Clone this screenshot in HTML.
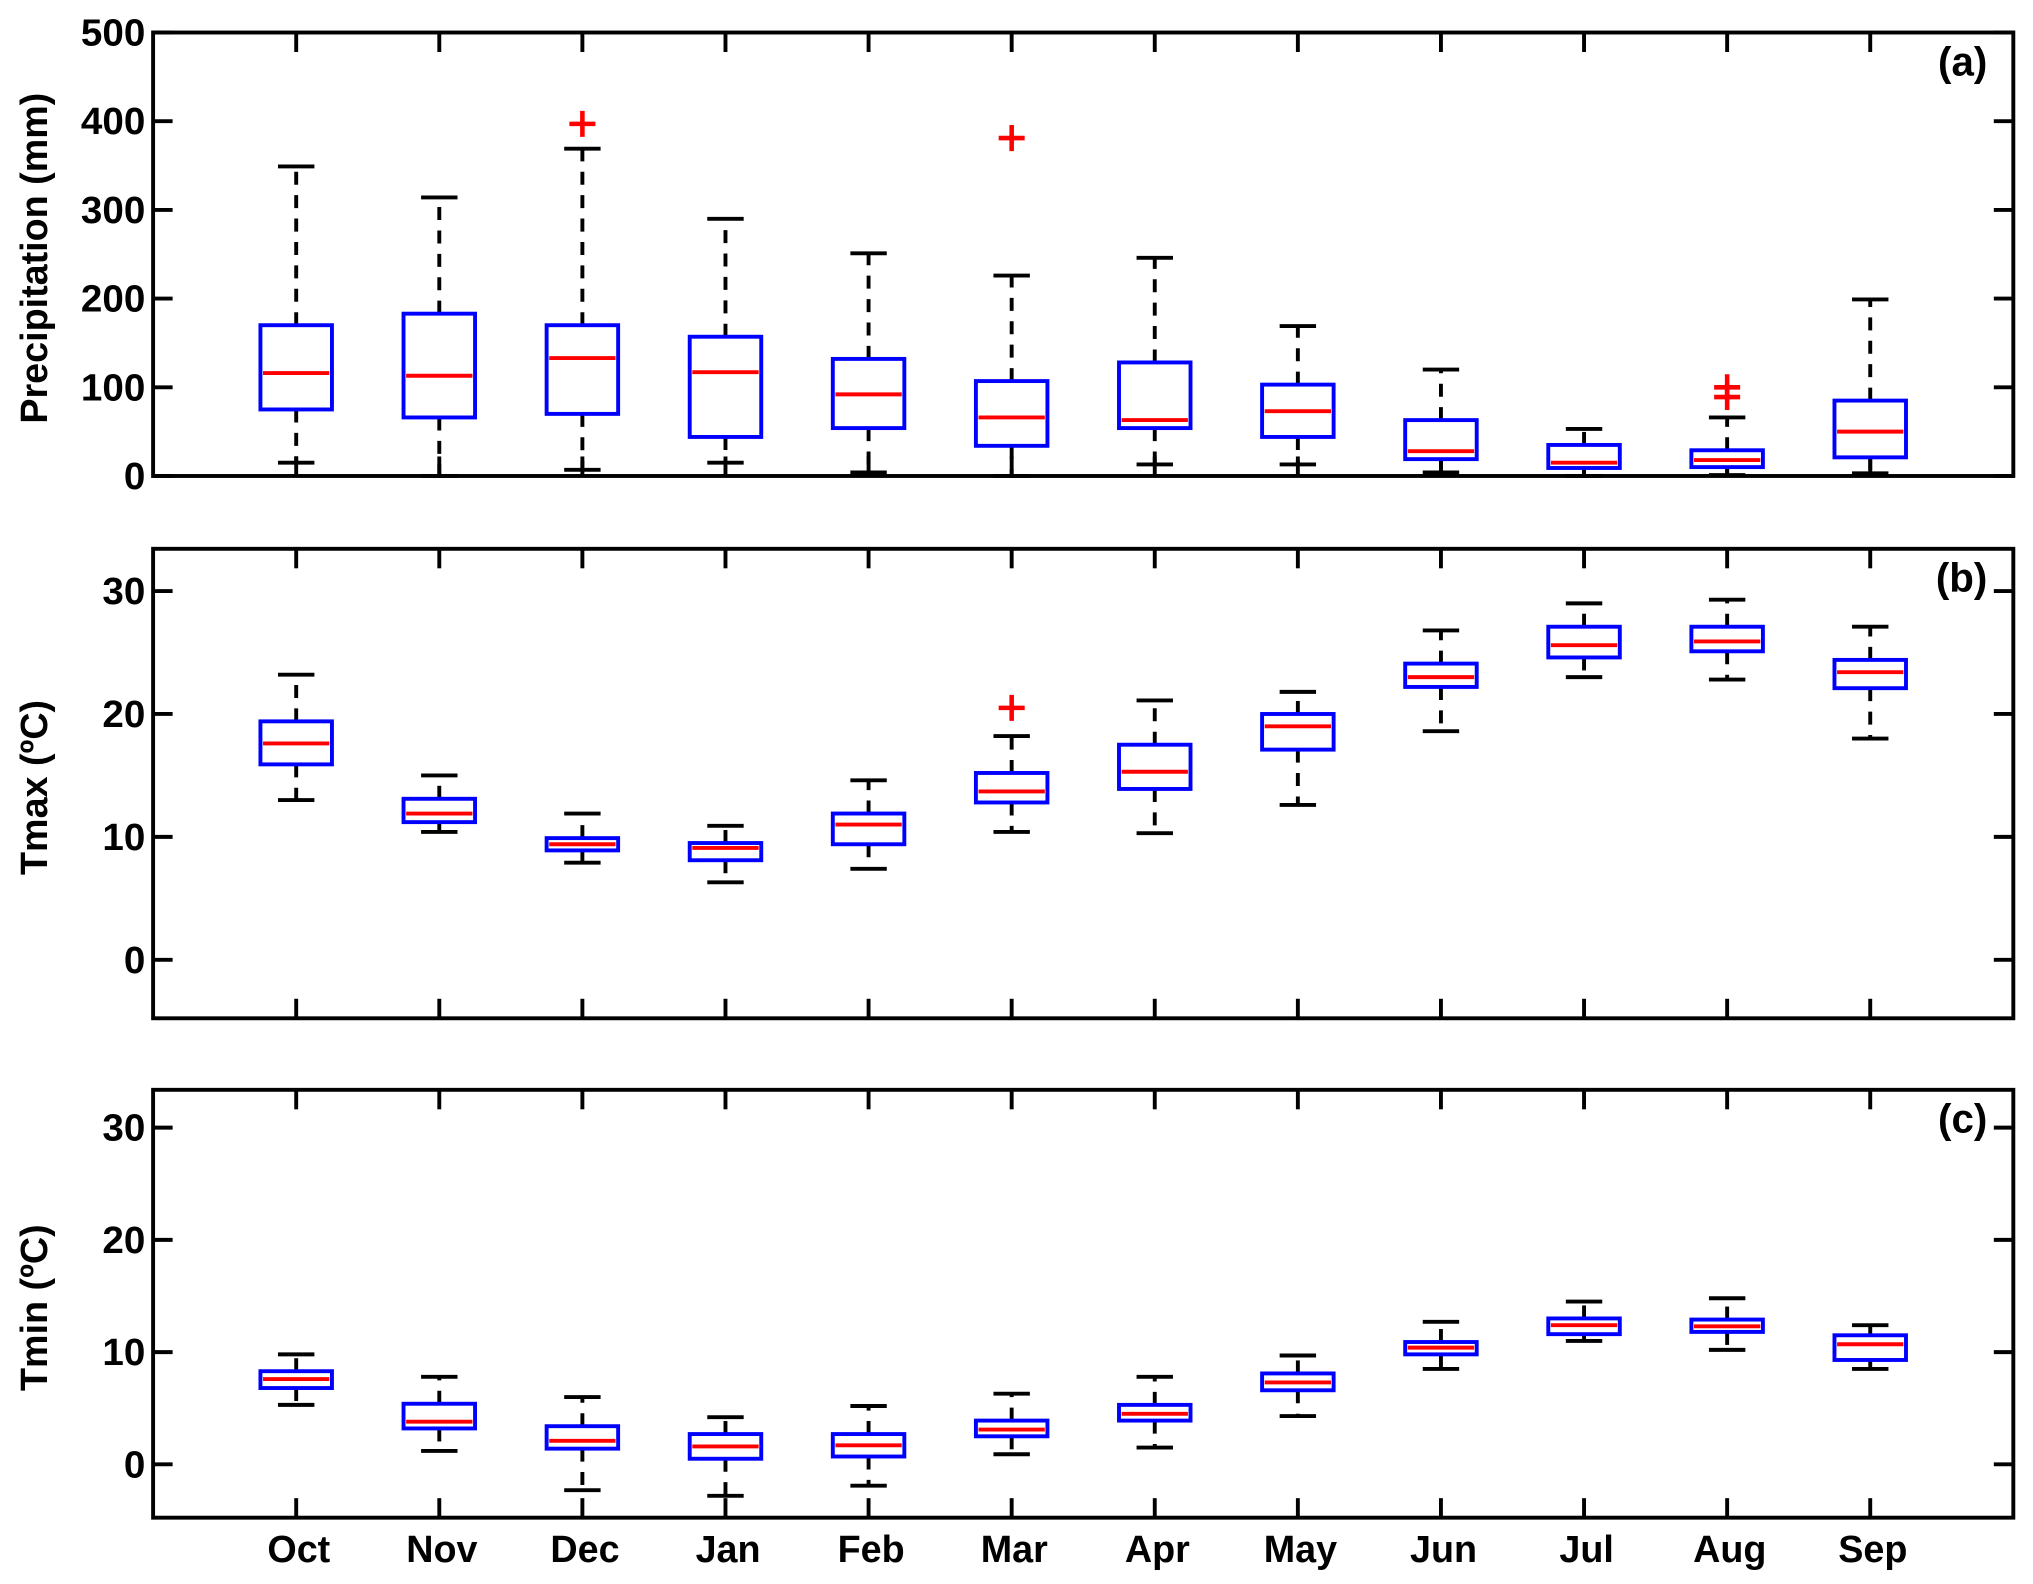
<!DOCTYPE html>
<html><head><meta charset="utf-8"><style>
html,body{margin:0;padding:0;background:#fff;}
svg{display:block;}
text{font-family:"Liberation Sans",Arial,sans-serif;font-weight:bold;fill:#000;}
</style></head><body>
<svg id="chart" width="2033" height="1584" viewBox="0 0 1563 1218" xmlns="http://www.w3.org/2000/svg"></svg>
<script>
const months = ["Oct","Nov","Dec","Jan","Feb","Mar","Apr","May","Jun","Jul","Aug","Sep"];
// Precipitation (mm)
const precipLow = [15,0,7,15,4,0,13,13,4,0,1,3];
const precipQ1  = [75,66,70,44,54,34,54,44,19,9,10,21];
const precipMed = [116,113,133,117,92,66,63,73,28,15,18,50];
const precipQ3  = [170,183,170,157,132,107,128,103,63,35,29,85];
const precipHigh= [349,314,369,290,251,226,246,169,120,53,66,199];
const precipOutliers = [[],[],[397],[],[],[381],[],[],[],[],[100,89],[]];
// Tmax (C)
const tmaxLow = [13.0,10.4,7.9,6.3,7.4,10.4,10.3,12.6,18.6,23.0,22.8,18.0];
const tmaxQ1  = [15.9,11.2,8.9,8.1,9.4,12.8,13.9,17.1,22.2,24.6,25.1,22.1];
const tmaxMed = [17.6,11.9,9.4,9.1,11.0,13.7,15.3,19.0,23.0,25.6,25.9,23.4];
const tmaxQ3  = [19.4,13.1,9.9,9.5,11.9,15.2,17.5,20.0,24.1,27.1,27.1,24.4];
const tmaxHigh= [23.2,15.0,11.9,10.9,14.6,18.2,21.1,21.8,26.8,29.0,29.3,27.1];
const tmaxOutliers = [[],[],[],[],[],[20.5],[],[],[],[],[],[]];
// Tmin (C)
const tminLow = [5.3,1.2,-2.3,-2.8,-1.9,0.9,1.5,4.3,8.5,11.0,10.2,8.5];
const tminQ1  = [6.8,3.2,1.4,0.5,0.7,2.5,3.9,6.6,9.8,11.6,11.8,9.3];
const tminMed = [7.6,3.8,2.1,1.6,1.7,3.1,4.5,7.3,10.4,12.4,12.3,10.7];
const tminQ3  = [8.3,5.4,3.4,2.7,2.7,3.9,5.3,8.1,10.9,13.0,12.9,11.5];
const tminHigh= [9.8,7.8,6.0,4.2,5.2,6.3,7.8,9.7,12.7,14.5,14.8,12.4];
const tminOutliers = [[],[],[],[],[],[],[],[],[],[],[],[]];

const precipTicks = [0,100,200,300,400,500];
const tempTicks = [0,10,20,30];

const svg = document.getElementById('chart');
const NS = 'http://www.w3.org/2000/svg';
function mk(tag, attrs, parent){
  const e = document.createElementNS(NS, tag);
  for (const k in attrs) e.setAttribute(k, attrs[k]);
  (parent||svg).appendChild(e);
  return e;
}
const L = 117.6, R = 1548;
function xScale(i){ return L + (i+1)*(R-L)/13; }

function panel(cfg){
  const g = mk('g', {});
  
  
  const y = v => cfg.top + (cfg.ymax - v)/(cfg.ymax - cfg.ymin)*(cfg.bot - cfg.top);
  const fr = mk('rect', {x:L, y:cfg.top, width:R-L, height:cfg.bot-cfg.top, fill:'none', stroke:'#000', 'stroke-width':3}, g);
  
  
  cfg.ticks.forEach(t => {
    const yy = y(t);
    mk('line', {x1:L, x2:L+15, y1:yy, y2:yy, stroke:'#000', 'stroke-width':3}, g);
    mk('line', {x1:R-15, x2:R, y1:yy, y2:yy, stroke:'#000', 'stroke-width':3}, g);
    const tx = mk('text', {x:L-6, y:yy+10, 'text-anchor':'end', 'font-size':29, textLength:String(t).length*16.5, lengthAdjust:'spacingAndGlyphs'}, g);
    tx.textContent = t;
    
    
  });
  months.forEach((m,i) => {
    const xx = xScale(i);
    mk('line', {x1:xx, x2:xx, y1:cfg.top, y2:cfg.top+15, stroke:'#000', 'stroke-width':3}, g);
    mk('line', {x1:xx, x2:xx, y1:cfg.bot-15, y2:cfg.bot, stroke:'#000', 'stroke-width':3}, g);
  });
  const yl = mk('text', {x:0, y:0, 'text-anchor':'middle', 'font-size':29, transform:`translate(36,${(cfg.top+cfg.bot)/2+3}) rotate(-90)`}, g);
  yl.textContent = cfg.ylabel;
  
  
  const pl = mk('text', {x:1528, y:cfg.top+33, 'text-anchor':'end', 'font-size':31}, g);
  pl.textContent = cfg.tag;
  
  
  const hw = 27.5, cw = 14;
  months.forEach((m,i) => {
    const xx = xScale(i);
    const bg = mk('g', {}, g);
    
    
    const lo=cfg.low[i], q1=cfg.q1[i], md=cfg.med[i], q3=cfg.q3[i], hi=cfg.high[i];
    mk('line', {x1:xx, x2:xx, y1:y(q3), y2:y(hi), stroke:'#000', 'stroke-width':3, 'stroke-dasharray':'10,8'}, bg);
    mk('line', {x1:xx, x2:xx, y1:y(q1), y2:y(lo), stroke:'#000', 'stroke-width':3, 'stroke-dasharray':'10,8'}, bg);
    mk('line', {x1:xx-cw, x2:xx+cw, y1:y(hi), y2:y(hi), stroke:'#000', 'stroke-width':3}, bg);
    mk('line', {x1:xx-cw, x2:xx+cw, y1:y(lo), y2:y(lo), stroke:'#000', 'stroke-width':3}, bg);
    mk('rect', {x:xx-hw, y:y(q3), width:2*hw, height:Math.max(1,y(q1)-y(q3)), fill:'#fff', stroke:'#0000ff', 'stroke-width':3}, bg);
    mk('line', {x1:xx-hw+2, x2:xx+hw-2, y1:y(md), y2:y(md), stroke:'#ff0000', 'stroke-width':3}, bg);
    cfg.out[i].forEach(o => {
      const oy = y(o);
      const p = mk('path', {d:`M${xx-10},${oy}H${xx+10}M${xx},${oy-10}V${oy+10}`, stroke:'#ff0000', 'stroke-width':3.5, fill:'none'}, bg);
      
      
    });
  });
}

panel({name:'panel-a-precipitation', top:25, bot:366, ymin:0, ymax:500, ticks:precipTicks, ylabel:'Precipitation (mm)', tag:'(a)',
  low:precipLow, q1:precipQ1, med:precipMed, q3:precipQ3, high:precipHigh, out:precipOutliers});
panel({name:'panel-b-tmax', top:422, bot:783, ymin:-4.76, ymax:33.44, ticks:tempTicks, ylabel:'Tmax (ºC)', tag:'(b)',
  low:tmaxLow, q1:tmaxQ1, med:tmaxMed, q3:tmaxQ3, high:tmaxHigh, out:tmaxOutliers});
panel({name:'panel-c-tmin', top:838, bot:1167, ymin:-4.75, ymax:33.37, ticks:tempTicks, ylabel:'Tmin (ºC)', tag:'(c)',
  low:tminLow, q1:tminQ1, med:tminMed, q3:tminQ3, high:tminHigh, out:tminOutliers});

months.forEach((m,i) => {
  const t = mk('text', {x:xScale(i)+2, y:1201, 'text-anchor':'middle', 'font-size':29});
  t.textContent = m;
  
  
});
</script>
</body></html>
